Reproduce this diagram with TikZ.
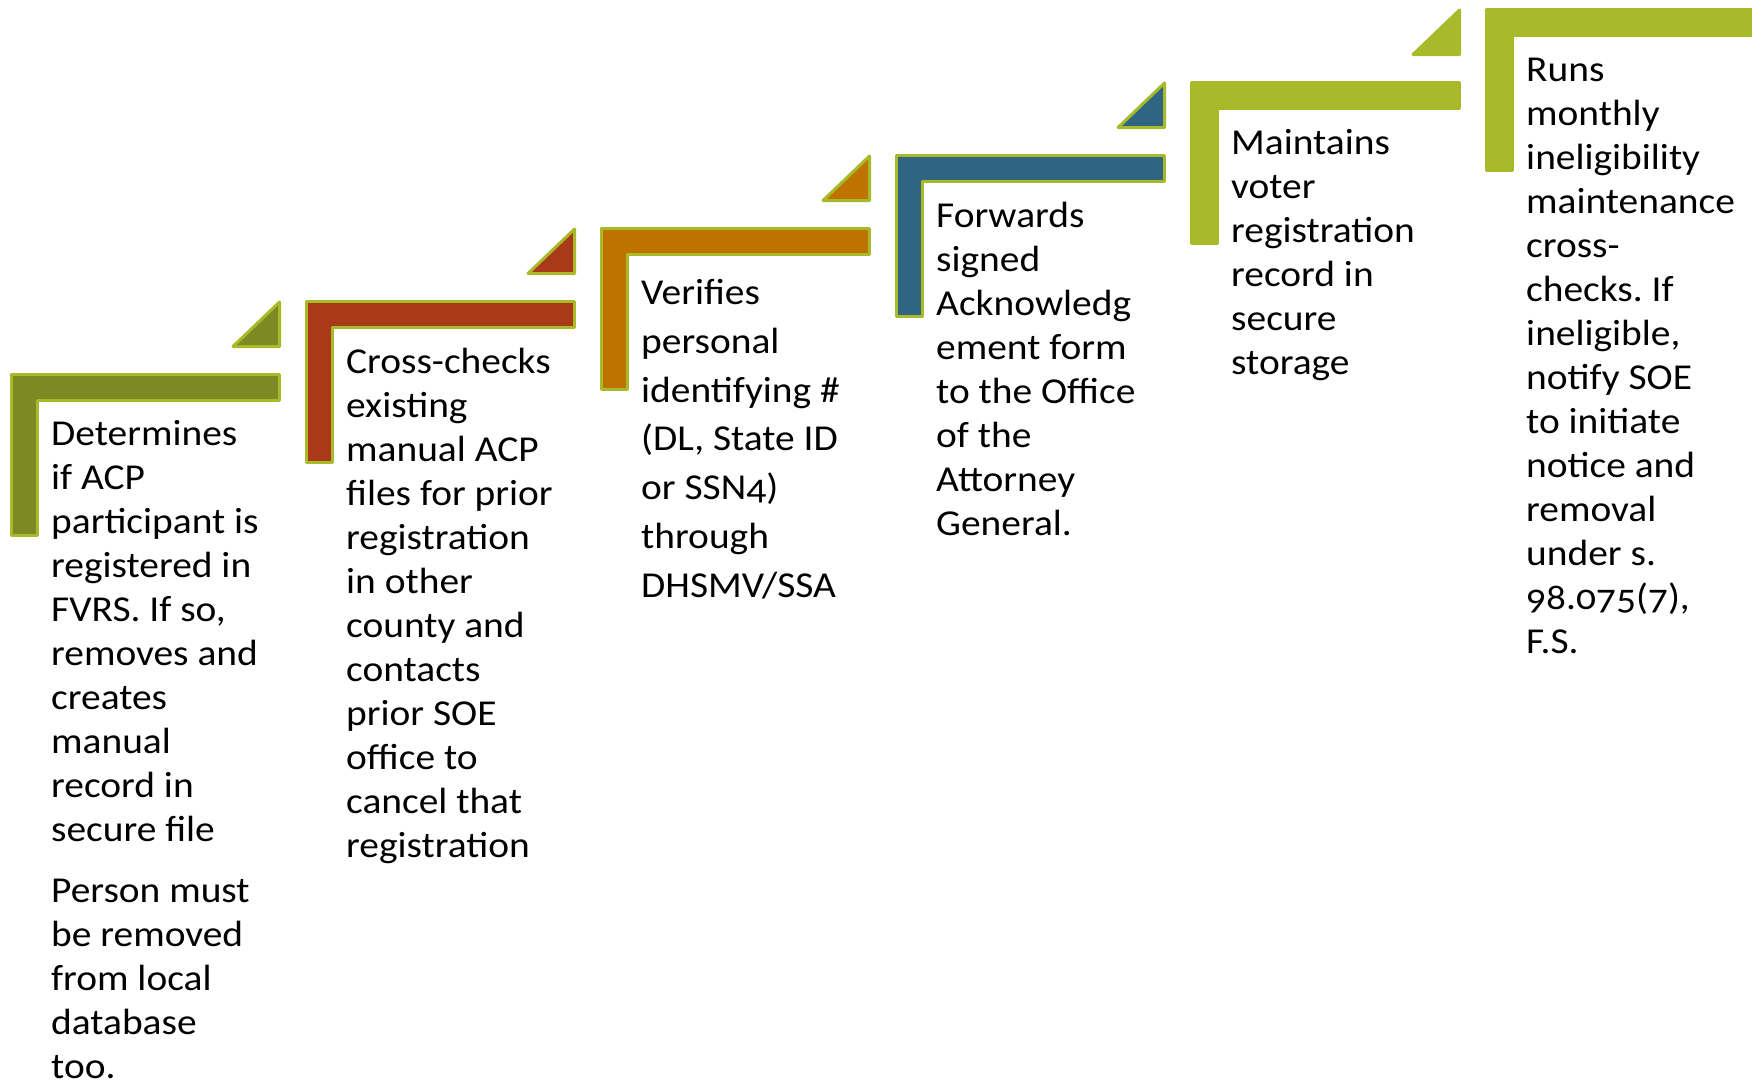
\documentclass[tikz,border=0pt]{standalone}
\usepackage{fontspec}
\setmainfont{Carlito}[Numbers=OldStyle, FakeStretch=1.08]
\frenchspacing
\definecolor{olivec}{HTML}{7D8923}
\definecolor{rustc}{HTML}{A83A1A}
\definecolor{orangec}{HTML}{BE7300}
\definecolor{bluec}{HTML}{2F6582}
\definecolor{limec}{HTML}{A8B92A}
\tikzset{
  stepshape/.style={fill=#1, draw=limec, line width=3pt, line join=round},
  tri/.style={fill=#1, draw=limec, line width=3pt, line join=round},
  steptext/.style={anchor=base west, inner sep=0pt, align=left,
    font=\fontsize{36.5}{44}\selectfont\frenchspacing, text=black},
}
\begin{document}
\begin{tikzpicture}[x=1pt, y=-1pt]
\useasboundingbox (0,0) rectangle (1752,1082);
\clip (0,0) rectangle (1752,1082);
% L-shaped step bars
\foreach \k/\col in {1/olivec,2/rustc,3/orangec,4/bluec,5/limec,6/limec}{
  \pgfmathsetmacro{\X}{10+295*(\k-1)}
  \pgfmathsetmacro{\Y}{373-73*(\k-1)}
  \draw[stepshape=\col] (\X+1.5,\Y+1.5) -- (\X+269.5,\Y+1.5) -- (\X+269.5,\Y+27.5)
     -- (\X+27.5,\Y+27.5) -- (\X+27.5,\Y+162.5) -- (\X+1.5,\Y+162.5) -- cycle;
}
% triangles
\foreach \k/\col in {1/olivec,2/rustc,3/orangec,4/bluec,5/limec}{
  \pgfmathsetmacro{\R}{10+295*(\k-1)+271}
  \pgfmathsetmacro{\Y}{373-73*(\k-1)}
  \draw[tri=\col] (\R-1.5,\Y-73+2) -- (\R-1.5,\Y-26.5) -- (\R-48,\Y-26.5) -- cycle;
}
% texts (anchored at the baseline of the last line)
\node[steptext] (t1) at (51,1078) {Determines\\if ACP\\participant is\\registered in\\FVRS. If so,\\removes and\\creates\\manual\\record in\\secure file\\[17pt]Person must\\be removed\\from local\\database\\too.};
\node[steptext] (t2) at (346,857) {Cross-checks\\existing\\manual ACP\\files for prior\\registration\\in other\\county and\\contacts\\prior SOE\\office to\\cancel that\\registration};
\node[steptext, font=\fontsize{36.5}{48.8}\selectfont\frenchspacing] (t3) at (641,597.3) {Verifies\\personal\\identifying \#\\(DL, State ID\\or SSN4)\\through\\DHSMV/SSA};
\node[steptext] (t4) at (936,535) {Forwards\\signed\\Acknowledg\\ement form\\to the Office\\of the\\Attorney\\General.};
\node[steptext] (t5) at (1231,374) {Maintains\\voter\\registration\\record in\\secure\\storage};
\node[steptext] (t6) at (1526,653) {Runs\\monthly\\ineligibility\\maintenance\\cross-\\checks. If\\ineligible,\\notify SOE\\to initiate\\notice and\\removal\\under s.\\98.075(7),\\F.S.};
\end{tikzpicture}
\end{document}
